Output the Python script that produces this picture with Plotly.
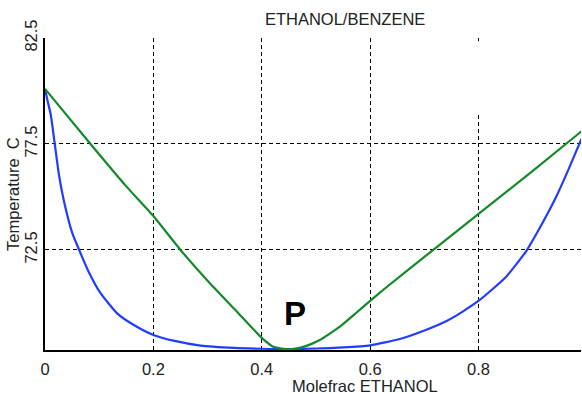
import plotly.graph_objects as go

# Liquid (bubble point) curve
x_liquid = [0.0, 0.005, 0.0105, 0.018, 0.026, 0.035, 0.0504, 0.063, 0.08, 0.1025, 0.133, 0.164,
            0.2, 0.237, 0.287, 0.35, 0.4, 0.45, 0.5, 0.55, 0.6, 0.655, 0.7, 0.741, 0.77, 0.802,
            0.851, 0.888, 0.912, 0.943, 0.966, 0.99]
t_liquid = [80.1, 79.5, 78.9, 77.5, 76.0, 74.8, 73.29, 72.5, 71.5, 70.46, 69.51, 68.96,
            68.49, 68.22, 67.99, 67.88, 67.84, 67.82, 67.85, 67.9, 68.0, 68.3, 68.7, 69.15, 69.58, 70.14,
            71.24, 72.45, 73.5, 75.0, 76.3, 77.75]

# Vapour (dew point) curve
x_vapour = [0.0, 0.084, 0.15, 0.2, 0.25, 0.3, 0.35, 0.4, 0.42, 0.44, 0.46, 0.48, 0.507,
            0.544, 0.575, 0.6, 0.63, 0.7, 0.8, 0.9, 0.99]
t_vapour = [80.1, 77.5, 75.5, 74.1, 72.5, 71.05, 69.7, 68.35, 67.95, 67.83, 67.83, 67.95, 68.25,
            68.88, 69.55, 70.1, 70.74, 72.17, 74.2, 76.23, 78.1]

x_ticks = [0, 0.2, 0.4, 0.6, 0.8]
x_tick_labels = ["0", "0.2", "0.4", "0.6", "0.8"]
y_ticks = [72.5, 77.5, 82.5]
y_tick_labels = ["72.5", "77.5", "82.5"]

FONT = "Liberation Sans, Arial, sans-serif"
FS = 16.5

fig = go.Figure()
fig.add_trace(go.Scatter(x=x_liquid, y=t_liquid, mode="lines",
                         line=dict(color="#1f3cff", width=2.2, shape="spline", smoothing=0.5),
                         showlegend=False))
fig.add_trace(go.Scatter(x=x_vapour, y=t_vapour, mode="lines",
                         line=dict(color="#14892a", width=2.2, shape="spline", smoothing=0.4),
                         showlegend=False))

fig.update_layout(
    width=582, height=394,
    margin=dict(l=45, r=1, t=38, b=44),
    paper_bgcolor="white", plot_bgcolor="white",
    font=dict(family=FONT, size=FS, color="#222"),
    title=dict(text="ETHANOL/BENZENE", x=0.56, xref="paper", xanchor="center",
               y=0.95, yref="container", yanchor="middle",
               font=dict(family=FONT, size=FS, color="#222")),
    xaxis=dict(range=[0, 0.989], tickvals=x_ticks, ticktext=x_tick_labels,
               showline=True, linecolor="black", linewidth=1.5, mirror=False,
               showgrid=True, gridcolor="black", gridwidth=1, griddash="4px,3px",
               zeroline=False, ticks="", ticklabelstandoff=3,
               tickfont=dict(family=FONT, size=FS, color="#222")),
    yaxis=dict(range=[67.78, 82.5], tickvals=y_ticks, ticktext=y_tick_labels,
               showline=True, linecolor="black", linewidth=1.5, mirror=False,
               showgrid=True, gridcolor="black", gridwidth=1, griddash="4px,3px",
               zeroline=False, ticks="", tickangle=-90,
               tickfont=dict(family=FONT, size=FS, color="#222")),
)

fig.add_annotation(text="Temperature  C", x=(13 - 45) / 536, xref="paper",
                   y=0.5, yref="paper", textangle=-90, xanchor="center", yanchor="middle",
                   showarrow=False, font=dict(family=FONT, size=FS, color="#222"))
fig.add_annotation(text="Molefrac ETHANOL", x=(365 - 45) / 536, xref="paper",
                   y=-0.115, yref="paper", yanchor="middle", xanchor="center",
                   showarrow=False, font=dict(family=FONT, size=FS, color="#222"))
fig.add_annotation(text="<b>P</b>", x=0.461, y=69.5, xref="x", yref="y",
                   showarrow=False, font=dict(family=FONT, size=33, color="black"))

# gap in the 0.8 gridline near the top
fig.add_shape(type="rect", x0=0.79, x1=0.81, y0=78.95, y1=82.35, xref="x", yref="y",
              fillcolor="white", line=dict(width=0), layer="between")

fig.write_html("out.html")
